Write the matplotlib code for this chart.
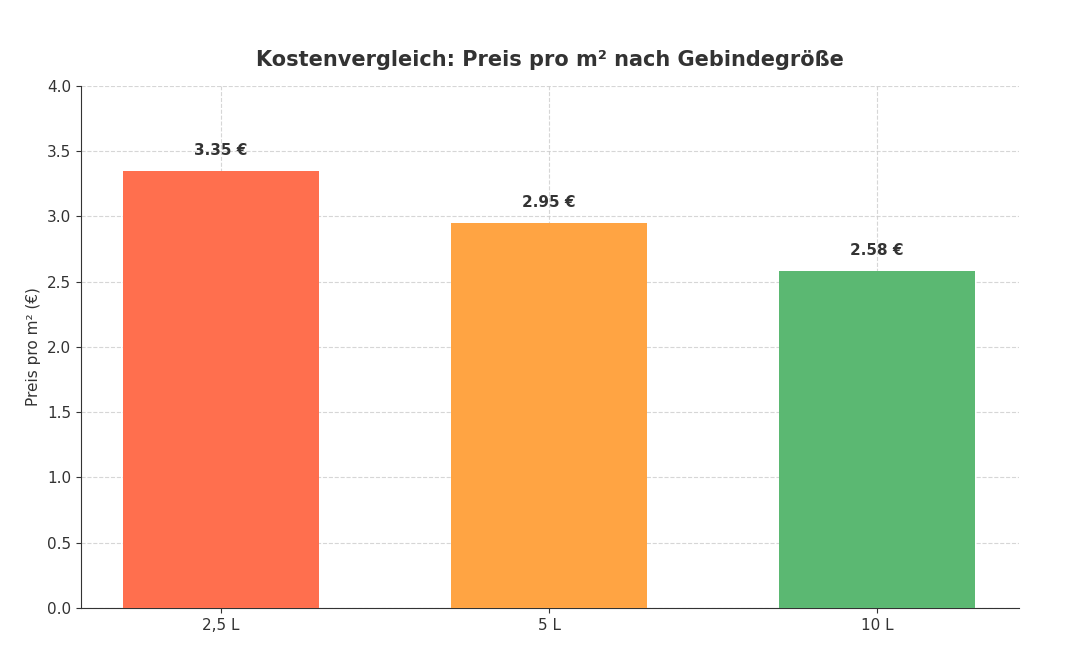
import matplotlib
matplotlib.use("Agg")
import matplotlib.pyplot as plt

categories = ["2,5 L", "5 L", "10 L"]
values = [3.35, 2.95, 2.58]
colors = ["#FF6F4E", "#FFA443", "#5BB872"]
yticks = [0.0, 0.5, 1.0, 1.5, 2.0, 2.5, 3.0, 3.5, 4.0]

fig = plt.figure(figsize=(10.83, 6.56), dpi=100)
ax = fig.add_axes([0.0748, 0.0732, 0.8662, 0.7958])
x = range(len(categories))
ax.bar(x, values, width=0.6, color=colors, zorder=3)
for xi, v in zip(x, values):
    ax.text(xi, v + 0.1, f"{v:.2f} €", ha="center", va="bottom",
            fontsize=11, fontweight="bold", color="#333333", zorder=4)
ax.set_xticks(list(x))
ax.set_xticklabels(categories, fontsize=11, color="#333333")
ax.set_yticks(yticks)
ax.set_yticklabels([f"{t:.1f}" for t in yticks], fontsize=11, color="#333333")
ax.set_ylim(0, 4.0)
ax.set_xlim(-0.427, 2.433)
ax.set_ylabel("Preis pro m² (€)", fontsize=11, color="#333333")
ax.set_title("Kostenvergleich: Preis pro m² nach Gebindegröße", fontsize=15,
             fontweight="bold", color="#333333", pad=14)
ax.grid(True, linestyle="--", color="#cccccc", alpha=0.8, linewidth=0.8, zorder=0)
ax.spines["top"].set_visible(False)
ax.spines["right"].set_visible(False)
ax.spines["left"].set_color("#333333")
ax.spines["bottom"].set_color("#333333")
ax.tick_params(colors="#333333")
fig.savefig("out.png", dpi=100)
